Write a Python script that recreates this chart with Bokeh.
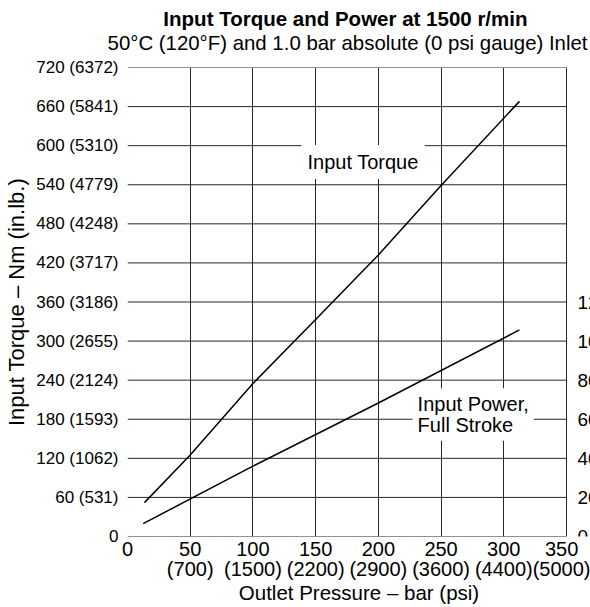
from bokeh.plotting import figure
from bokeh.models import Range1d, Title, Label, FixedTicker
from bokeh.core.properties import value
from bokeh.embed import file_html
from bokeh.resources import INLINE

# ---- data ----
pressure_ticks = [0, 50, 100, 150, 200, 250, 300, 350]
pressure_psi = ["", "700", "1500", "2200", "2900", "3600", "4400", "5000"]

torque_ticks = [0, 60, 120, 180, 240, 300, 360, 420, 480, 540, 600, 660, 720]
torque_inlb = ["", "531", "1062", "1593", "2124", "2655", "3186", "3717",
               "4248", "4779", "5310", "5841", "6372"]

power_ticks = [0, 20, 40, 60, 80, 100, 120]

torque_pressure = [13.5, 50, 100, 150, 200, 250, 312.5]
torque_nm = [52, 125, 235, 333, 432, 539, 668]

power_pressure = [12.5, 100, 200, 312.5]
power_kw = [6.6, 36.0, 68.3, 105.7]

FONT = "Liberation Sans"
GRID = "#262626"

# The plotting frame runs to the right window edge; the chart box itself ends at
# 350 bar, and the kW scale sits just right of it, cut off by the window edge.
W, H = 590, 607
LEFT, BOX_RIGHT = 127, 566
x_end = pressure_ticks[-1] * (W - LEFT) / (BOX_RIGHT - LEFT)

p = figure(width=W, height=H, x_range=Range1d(0, x_end), y_range=Range1d(0, 720),
           output_backend="svg", toolbar_location=None, title=None,
           min_border_left=LEFT, min_border_right=0, min_border_top=67,
           min_border_bottom=70)
p.extra_y_ranges = {"power": Range1d(0, 240)}

# spacer between frame and subtitle, then subtitle, then main title
p.add_layout(Title(text=" ", text_font=FONT, text_font_size="11px", standoff=0), "above")
p.add_layout(Title(text="50°C (120°F) and 1.0 bar absolute (0 psi gauge) Inlet",
                   align="right", offset=3, text_font=FONT, text_font_size="20.4px",
                   text_font_style="normal", text_color="black", standoff=0), "above")
p.add_layout(Title(text="Input Torque and Power at 1500 r/min",
                   align="right", offset=63, text_font=FONT, text_font_size="20.5px",
                   text_font_style="bold", text_color="black", standoff=0), "above")

p.outline_line_color = None
p.background_fill_color = "white"
p.border_fill_color = "white"

# vertical grid lines (incl. box left/right edges)
p.xgrid.ticker = FixedTicker(ticks=pressure_ticks)
p.xgrid.grid_line_color = GRID
p.xgrid.grid_line_width = 1
# horizontal grid lines (incl. box top/bottom edges), limited to 0..350 bar
p.ygrid.grid_line_color = None
p.segment(x0=[pressure_ticks[0]] * len(torque_ticks), y0=torque_ticks,
          x1=[pressure_ticks[-1]] * len(torque_ticks), y1=torque_ticks,
          line_color=GRID, line_width=1)

# x axis
xa = p.xaxis[0]
xa.ticker = FixedTicker(ticks=pressure_ticks)
xa.bounds = (pressure_ticks[0], pressure_ticks[-1])
xa.major_label_overrides = {t: (f"{t}\n({psi})" if psi else f"{t}")
                            for t, psi in zip(pressure_ticks, pressure_psi)}
xa.axis_label = "Outlet Pressure – bar (psi)"

# y axis (torque)
ya = p.yaxis[0]
ya.ticker = FixedTicker(ticks=torque_ticks)
ya.major_label_overrides = {t: (f"{t} ({v})" if v else f"{t}")
                            for t, v in zip(torque_ticks, torque_inlb)}
ya.axis_label = "Input Torque – Nm (in.lb.)"

for ax in (xa, ya):
    ax.axis_line_color = None
    ax.major_tick_out = 0
    ax.major_tick_in = 0
    ax.minor_tick_out = 0
    ax.minor_tick_in = 0
    ax.major_label_text_font = FONT
    ax.major_label_text_color = "black"
    ax.axis_label_text_font = FONT
    ax.axis_label_text_font_style = "normal"
    ax.axis_label_text_color = "black"

xa.major_label_text_font_size = "20px"
xa.major_label_text_line_height = 0.95
xa.major_label_standoff = 1
xa.axis_label_standoff = -2
xa.axis_label_text_font_size = "20.5px"

ya.major_label_text_font_size = "17px"
ya.major_label_standoff = 9
ya.axis_label_standoff = 4
ya.axis_label_text_font_size = "22px"

# right-side power scale labels (kW), cut off by the window edge as in the reference
p.text(x=[pressure_ticks[-1]] * len(power_ticks), y=power_ticks,
       text=[str(v) for v in power_ticks], y_range_name="power",
       x_offset=11, text_font=value(FONT), text_font_size=value("19px"),
       text_color="black", text_baseline="middle", text_align="left")

# curves
p.line(torque_pressure, torque_nm, line_color="black", line_width=1.5)
p.line(power_pressure, power_kw, y_range_name="power", line_color="black", line_width=1.5)

# annotations
p.add_layout(Label(x=138.7, y=575, text="Input Torque", text_font=FONT,
                   text_font_size="20px", text_color="black",
                   text_baseline="middle", text_align="left",
                   background_fill_color="white", padding=6))
p.add_layout(Label(x=227.3, y=227.4, text="Input Power,\nFull Stroke", text_font=FONT,
                   text_font_size="20px", text_color="black",
                   text_baseline="top", text_align="left", text_line_height=0.93,
                   background_fill_color="white", padding=5))

open("out.html", "w").write(file_html(p, INLINE))
